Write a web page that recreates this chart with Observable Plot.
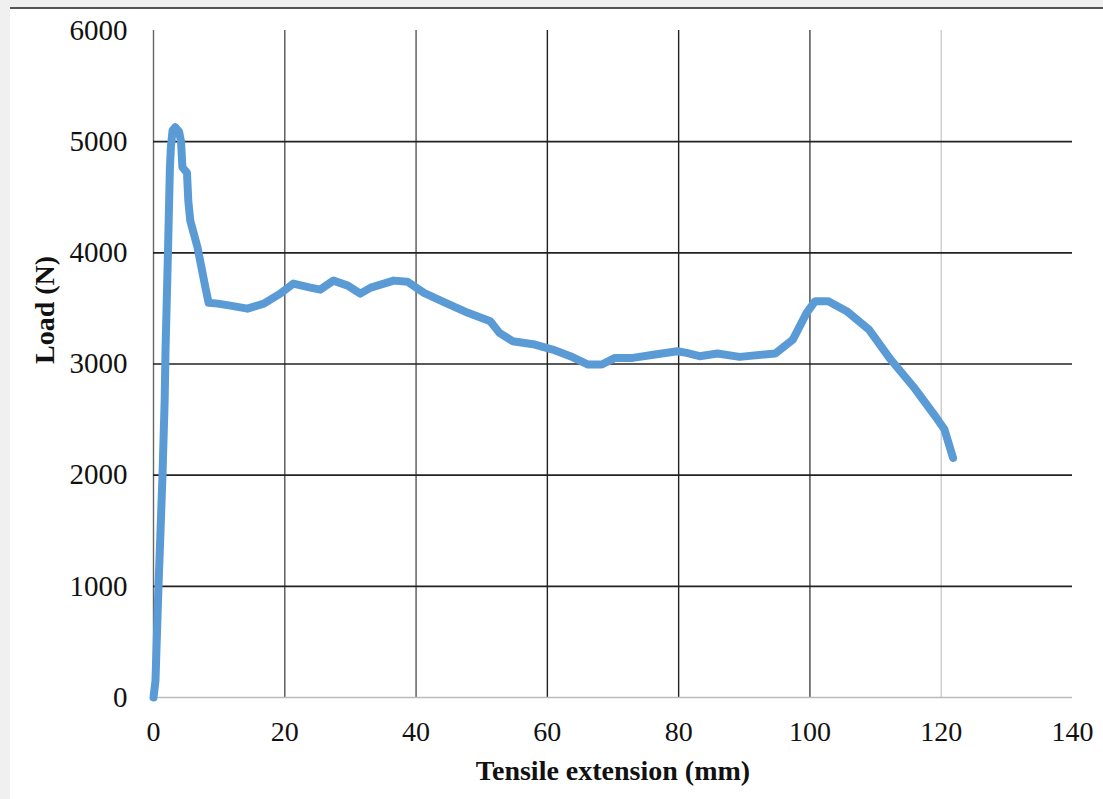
<!DOCTYPE html>
<html>
<head>
<meta charset="utf-8">
<script src="https://cdn.jsdelivr.net/npm/d3@7"></script>
<script src="https://cdn.jsdelivr.net/npm/@observablehq/plot@0.6"></script>
<style>
  html, body { margin: 0; padding: 0; background: #f0f0f0; }
  #wrap { position: absolute; left: 10px; top: 7px; right: 0; bottom: 0; background: #fff; border-top: 2px solid #555; overflow: hidden; }
  #wrap svg { display: block; }
</style>
</head>
<body>
<div id="wrap"></div>
<script>
const extension = [0, 0.3, 0.76, 1.07, 1.37, 1.7, 1.83, 2.2, 2.5, 2.65, 2.9, 3.3, 3.9, 4.2, 4.4, 5.1, 5.3, 5.6, 6.7, 7.9, 8.4, 9.8, 11.7, 14.3, 16.8, 19.3, 21.3, 23.9, 25.4, 27.4, 29.6, 31.5, 33.1, 36.6, 38.7, 41.2, 44.5, 47.9, 51.3, 52.7, 54.7, 58.1, 60.8, 63.5, 66.2, 68.3, 70.3, 73.0, 76.4, 79.8, 81.2, 83.2, 85.9, 89.3, 94.7, 97.4, 99.5, 100.8, 102.8, 105.6, 109.0, 112.3, 115.7, 119.1, 120.5, 121.8];
const load = [0, 150, 1000, 1500, 2000, 2670, 3120, 4000, 4770, 4950, 5100, 5130, 5090, 5000, 4770, 4720, 4470, 4290, 4050, 3690, 3550, 3543, 3525, 3498, 3543, 3633, 3723, 3687, 3669, 3750, 3705, 3633, 3687, 3750, 3740, 3640, 3550, 3460, 3385, 3280, 3205, 3175, 3130, 3070, 2995, 2995, 3055, 3055, 3085, 3115, 3100, 3070, 3094, 3064, 3094, 3220, 3460, 3565, 3565, 3475, 3310, 3040, 2800, 2530, 2410, 2155];
const xTicks = [0, 20, 40, 60, 80, 100, 120, 140];
const yTicks = [0, 1000, 2000, 3000, 4000, 5000, 6000];
const xGrid = [0, 20, 40, 60, 80, 100, 120];
const yGrid = [1000, 2000, 3000, 4000, 5000];
const xLabel = "Tensile extension (mm)";
const yLabel = "Load (N)";

const data = extension.map((x, i) => ({x, y: load[i]}));
const xGridColor = {0: "#666", 20: "#555", 40: "#555", 60: "#222", 80: "#222", 100: "#444", 120: "#ccc"};

const chart = Plot.plot({
  width: 1093,
  height: 790,
  marginLeft: 143,
  marginRight: 31,
  marginTop: 21,
  marginBottom: 102,
  style: {fontFamily: "'Liberation Serif', 'Times New Roman', serif", fontSize: "28px", color: "#111", background: "transparent"},
  x: {domain: [0, 140], ticks: xTicks, label: null, tickSize: 0, tickPadding: 24},
  y: {domain: [0, 6000], ticks: yTicks, label: null, tickSize: 0, tickPadding: 26},
  marks: [
    Plot.ruleX(xGrid, {x: d => d, y1: 0, y2: 6000, stroke: d => xGridColor[d], strokeWidth: 1.4}),
    Plot.ruleY(yGrid, {y: d => d, x1: 0, x2: 140, stroke: "#222", strokeWidth: 1.7}),
    Plot.ruleY([0], {x1: 0, x2: 140, stroke: "#bbb", strokeWidth: 1.3}),
    Plot.line(data, {x: "x", y: "y", stroke: "#5b9bd5", strokeWidth: 8, strokeLinejoin: "round", strokeLinecap: "round"}),
    Plot.axisX({ticks: xTicks, tickSize: 0, tickPadding: 24, label: null, fontSize: 28, tickFormat: d => String(d)}),
    Plot.axisY({ticks: yTicks, tickSize: 0, tickPadding: 26, label: null, fontSize: 29, tickFormat: d => String(d)}),
    Plot.text([xLabel], {frameAnchor: "bottom", text: d => d, dy: 82, fontWeight: "bold", fontSize: 28, fill: "#111"}),
    Plot.text([yLabel], {frameAnchor: "left", text: d => d, dx: -108, rotate: -90, fontWeight: "bold", fontSize: 28, fill: "#111"})
  ]
});
document.getElementById("wrap").appendChild(chart);
</script>
</body>
</html>
